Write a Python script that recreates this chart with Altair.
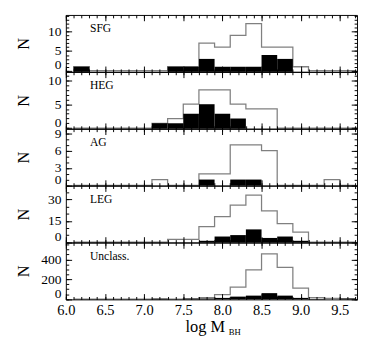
import altair as alt
import pandas as pd

# histogram bins (left edges), width 0.2 in log M_BH
BIN_LEFT = [6.1, 6.3, 6.5, 6.7, 6.9, 7.1, 7.3, 7.5, 7.7, 7.9, 8.1, 8.3, 8.5, 8.7, 8.9, 9.1, 9.3, 9.5]
BIN_WIDTH = 0.2

PANELS = ["SFG", "HEG", "AG", "LEG", "Unclass."]
#            6.1 6.3 6.5 6.7 6.9 7.1 7.3 7.5 7.7 7.9 8.1  8.3  8.5  8.7  8.9  9.1 9.3 9.5
SFG_ALL   = [1,  0,  0,  0,  0,  0,  1,  1,  7,  6,  9,   12,  6,   6,   1,   0,  0,  0]
SFG_BLACK = [1,  0,  0,  0,  0,  0,  1,  1,  3,  1,  1,   1,   4,   3,   0,   0,  0,  0]
HEG_ALL   = [0,  0,  0,  0,  0,  1,  2,  5,  8,  8,  5,   4,   4,   0,   0,   0,  0,  0]
HEG_BLACK = [0,  0,  0,  0,  0,  1,  1,  3,  5,  3,  2,   0,   0,   0,   0,   0,  0,  0]
AG_ALL    = [0,  0,  0,  0,  0,  1,  0,  0,  2,  2,  7,   7,   6,   0,   0,   0,  1,  0]
AG_BLACK  = [0,  0,  0,  0,  0,  0,  0,  0,  1,  0,  1,   1,   0,   0,   0,   0,  0,  0]
LEG_ALL   = [0,  0,  0,  0,  0,  0,  2,  2,  11, 18, 26,  33,  22,  13,  7,   0,  0,  0]
LEG_BLACK = [0,  0,  0,  0,  0,  0,  0,  0,  1,  4,  5,   9,   3,   4,   1,   0,  0,  0]
UNC_ALL   = [0,  0,  0,  0,  0,  3,  0,  4,  15, 45, 120, 295, 455, 320, 110, 15, 8,  4]
UNC_BLACK = [0,  0,  0,  0,  0,  3,  0,  3,  6,  12, 25,  35,  60,  35,  12,  2,  0,  4]

Y_DOMAINS = [[-0.3, 14.2], [-0.15, 11.8], [-0.05, 9.8], [-0.2, 39.7], [-3, 570]]
Y_MAJOR = [[0, 5, 10], [0, 5, 10], [0, 3, 6, 9], [0, 15, 30], [0, 200, 400]]
Y_MINOR_STEP = [1, 1, 1, 5, 50]
X_MAJOR = [6.0, 6.5, 7.0, 7.5, 8.0, 8.5, 9.0, 9.5]
X_DOMAIN = [6.0, 9.72]

ALL = [SFG_ALL, HEG_ALL, AG_ALL, LEG_ALL, UNC_ALL]
BLACK = [SFG_BLACK, HEG_BLACK, AG_BLACK, LEG_BLACK, UNC_BLACK]

W = 302
H = 59
FONT = "Liberation Serif"
GRAY = "#808080"

x_minor = [round(6.0 + 0.1 * i, 1) for i in range(38)]


def axis(orient, values, size, offset=0, domain=False):
    return alt.Axis(orient=orient, values=values, tickSize=size, ticks=True,
                    labels=False, offset=offset, domain=domain, grid=False,
                    title=None, zindex=1, tickColor="black", domainColor="black",
                    tickWidth=1, domainWidth=1, minExtent=0, maxExtent=0)


def panel(i, last):
    allv, blackv = ALL[i], BLACK[i]
    rows = [{"x": BIN_LEFT[0], "n": 0, "i": 0}]
    for k, (x, v) in enumerate(zip(BIN_LEFT, allv)):
        rows.append({"x": x, "n": v, "i": k + 1})
    end = round(BIN_LEFT[-1] + BIN_WIDTH, 2)
    rows.append({"x": end, "n": allv[-1], "i": len(allv) + 1})
    rows.append({"x": end, "n": 0, "i": len(allv) + 2})
    line_df = pd.DataFrame(rows)

    bar_df = pd.DataFrame({"x": BIN_LEFT, "x2": [round(b + BIN_WIDTH, 2) for b in BIN_LEFT],
                           "n": blackv})
    bar_df = bar_df[bar_df["n"] > 0]

    ydom = Y_DOMAINS[i]
    xs = alt.Scale(domain=X_DOMAIN, nice=False, zero=False)
    ys = alt.Scale(domain=ydom, nice=False, zero=False)
    ymaj = Y_MAJOR[i]
    step = Y_MINOR_STEP[i]
    ymin = [step * k for k in range(int(ydom[1] // step) + 1)]

    # layer 1: outline + labelled axes (left / bottom box edges)
    x_lab = alt.Axis(orient="bottom", values=X_MAJOR, format=".1f", ticks=False, tickSize=0,
                     labels=last, labelFont=FONT, labelFontSize=15, labelPadding=4,
                     labelFlush=False, labelOverlap=False, labelColor="black",
                     domain=True, domainColor="black",
                     grid=False, title=None, zindex=1, minExtent=0)
    y_lab = alt.Axis(orient="left", values=ymaj, format="d", ticks=False, tickSize=0,
                     labels=True, labelFont=FONT, labelFontSize=14, labelPadding=5,
                     labelFlush=4, labelFlushOffset=1, labelOverlap=False,
                     labelColor="black", domain=True, domainColor="black",
                     grid=False, title="N", titleFont=FONT, titleFontSize=17,
                     titleFontWeight="normal", titleColor="black", titlePadding=7,
                     minExtent=28, maxExtent=28, zindex=1)
    outline = alt.Chart(line_df).mark_line(interpolate="step-after", color=GRAY,
                                           strokeWidth=1.3).encode(
        x=alt.X("x:Q", scale=xs, axis=x_lab),
        y=alt.Y("n:Q", scale=ys, axis=y_lab),
        order="i:O",
    )
    # layer 2: black bars + inward major ticks on bottom/left
    bars = alt.Chart(bar_df).mark_bar(color="black", strokeWidth=0).encode(
        x=alt.X("x:Q", scale=xs, axis=axis("top", X_MAJOR, 6, offset=-H)),
        x2="x2:Q",
        y=alt.Y("n:Q", scale=ys, axis=axis("right", ymaj, 6, offset=-W)),
        y2=alt.datum(ydom[0]),
    )
    # layer 3: minor inward ticks on bottom/left
    inv = alt.Chart(line_df).mark_point(opacity=0, size=1)
    l3 = inv.encode(
        x=alt.X("x:Q", scale=xs, axis=axis("top", x_minor, 3, offset=-H)),
        y=alt.Y("n:Q", scale=ys, axis=axis("right", ymin, 3, offset=-W)),
    )
    # layer 4: major inward ticks + box on top/right
    l4 = inv.encode(
        x=alt.X("x:Q", scale=xs, axis=axis("bottom", X_MAJOR, 6, offset=-H, domain=True)),
        y=alt.Y("n:Q", scale=ys, axis=axis("left", ymaj, 6, offset=-W, domain=True)),
    )
    # layer 5: minor inward ticks on top/right
    l5 = inv.encode(
        x=alt.X("x:Q", scale=xs, axis=axis("bottom", x_minor, 3, offset=-H)),
        y=alt.Y("n:Q", scale=ys, axis=axis("left", ymin, 3, offset=-W)),
    )
    label = alt.Chart(pd.DataFrame({"t": [PANELS[i]]})).mark_text(
        font=FONT, fontSize=12, align="left", baseline="middle", color="black"
    ).encode(text="t:N", x=alt.value(25), y=alt.value(14))

    layers = [outline, bars, l3, l4, l5, label]
    if last:
        t1 = alt.Chart(pd.DataFrame({"t": ["log  M"]})).mark_text(
            font=FONT, fontSize=17, align="left", baseline="alphabetic", color="black"
        ).encode(text="t:N", x=alt.value(124), y=alt.value(93))
        t2 = alt.Chart(pd.DataFrame({"t": ["BH"]})).mark_text(
            font=FONT, fontSize=9, align="left", baseline="alphabetic", color="black"
        ).encode(text="t:N", x=alt.value(169), y=alt.value(96))
        layers += [t1, t2]
    return alt.layer(*layers).resolve_axis(x="independent", y="independent").properties(
        width=W, height=H)


chart = alt.vconcat(*[panel(i, i == 4) for i in range(5)], spacing=0, bounds="flush").properties(
    padding={"left": 7, "top": 0, "right": 0, "bottom": 0}
).configure_view(stroke=None)

chart.save("out.html", embed_options={"renderer": "svg", "actions": False})
